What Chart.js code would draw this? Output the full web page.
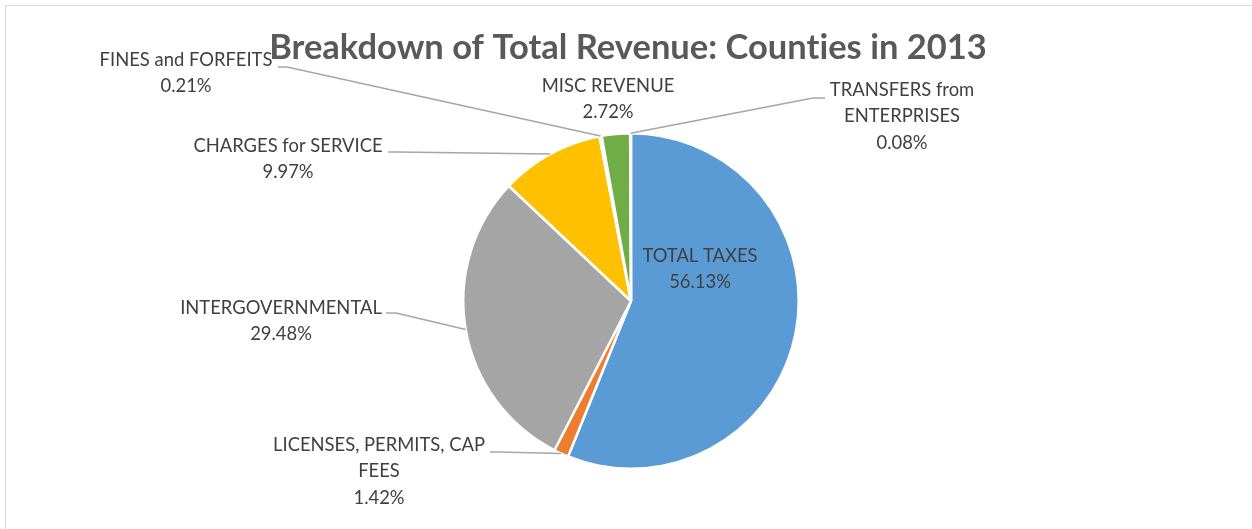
<!DOCTYPE html>
<html>
<head>
<meta charset="utf-8">
<script src="https://cdn.jsdelivr.net/npm/chart.js@4.4.1/dist/chart.umd.min.js"></script>
<style>
  html, body { margin: 0; padding: 0; background: #ffffff; }
  #wrap { width: 1252px; height: 529px; position: relative; }
</style>
</head>
<body>
<div id="wrap"><canvas id="c" width="1252" height="529"></canvas></div>
<script>
const categories = [
  "TOTAL TAXES",
  "LICENSES, PERMITS, CAP FEES",
  "INTERGOVERNMENTAL",
  "CHARGES for SERVICE",
  "FINES and FORFEITS",
  "MISC REVENUE",
  "TRANSFERS from ENTERPRISES"
];
const shares = [56.13, 1.42, 29.48, 9.97, 0.21, 2.72, 0.08];
const colors = ["#5B9BD5", "#ED7D31", "#A5A5A5", "#FFC000", "#4472C4", "#70AD47", "#255E91"];
const titleText = "Breakdown of Total Revenue: Counties in 2013";

// label layout: text lines, text centre x, first-line centre y, leader start (x,y) and elbow length (signed)
const labelLayout = [
  { lines: ["TOTAL TAXES"], x: 700, y: 256, leader: null },
  { lines: ["LICENSES, PERMITS, CAP", "FEES"], x: 379, y: 445, leader: { x: 490, y: 452, elbow: 9 } },
  { lines: ["INTERGOVERNMENTAL"], x: 281, y: 308, leader: { x: 386, y: 313, elbow: 10 } },
  { lines: ["CHARGES for SERVICE"], x: 288, y: 146, leader: { x: 388, y: 152, elbow: 10 } },
  { lines: ["FINES and FORFEITS"], x: 186, y: 60, leader: { x: 278, y: 67, elbow: 9 } },
  { lines: ["MISC REVENUE"], x: 608, y: 86, leader: null },
  { lines: ["TRANSFERS from", "ENTERPRISES"], x: 902, y: 90, leader: { x: 825, y: 98, elbow: -12 } }
];

const LABEL_FONT = '18.4px Lato, "Open Sans", sans-serif';
const LINE_H = 26.5;

const decorPlugin = {
  id: 'decor',
  beforeDraw(chart) {
    const ctx = chart.ctx;
    ctx.save();
    ctx.strokeStyle = '#d9d9d9';
    ctx.lineWidth = 1;
    ctx.beginPath();
    ctx.moveTo(5.5, 529);
    ctx.lineTo(5.5, 5.5);
    ctx.lineTo(1252, 5.5);
    ctx.stroke();
    ctx.restore();
  },
  afterDatasetsDraw(chart) {
    const ctx = chart.ctx;
    const meta = chart.getDatasetMeta(0);
    ctx.save();
    // leader lines
    ctx.strokeStyle = '#A6A6A6';
    ctx.lineWidth = 1.5;
    labelLayout.forEach((lab, i) => {
      if (!lab.leader) return;
      const arc = meta.data[i];
      const mid = (arc.startAngle + arc.endAngle) / 2;
      const ax = arc.x + Math.cos(mid) * arc.outerRadius;
      const ay = arc.y + Math.sin(mid) * arc.outerRadius;
      ctx.beginPath();
      ctx.moveTo(lab.leader.x, lab.leader.y);
      ctx.lineTo(lab.leader.x + lab.leader.elbow, lab.leader.y);
      ctx.lineTo(ax, ay);
      ctx.stroke();
    });
    // labels
    ctx.fillStyle = '#404040';
    ctx.font = LABEL_FONT;
    ctx.textAlign = 'center';
    ctx.textBaseline = 'middle';
    labelLayout.forEach((lab, i) => {
      const lines = lab.lines.concat([shares[i].toFixed(2) + '%']);
      lines.forEach((t, k) => ctx.fillText(t, lab.x, lab.y + k * LINE_H));
    });
    // title
    ctx.fillStyle = '#595959';
    ctx.font = 'bold 34.5px Lato, "Open Sans", sans-serif';
    if ('letterSpacing' in ctx) ctx.letterSpacing = '0.01px';
    ctx.fillText(titleText, 628, 48);
    ctx.restore();
  }
};

new Chart(document.getElementById('c'), {
  type: 'pie',
  data: {
    labels: categories,
    datasets: [{
      data: shares,
      backgroundColor: colors,
      borderColor: '#ffffff',
      borderWidth: 2.5
    }]
  },
  options: {
    responsive: false,
    animation: false,
    layout: { padding: { left: 462, right: 452, top: 132, bottom: 59 } },
    plugins: {
      legend: { display: false },
      tooltip: { enabled: false },
      title: { display: false }
    }
  },
  plugins: [decorPlugin]
});
</script>
</body>
</html>
